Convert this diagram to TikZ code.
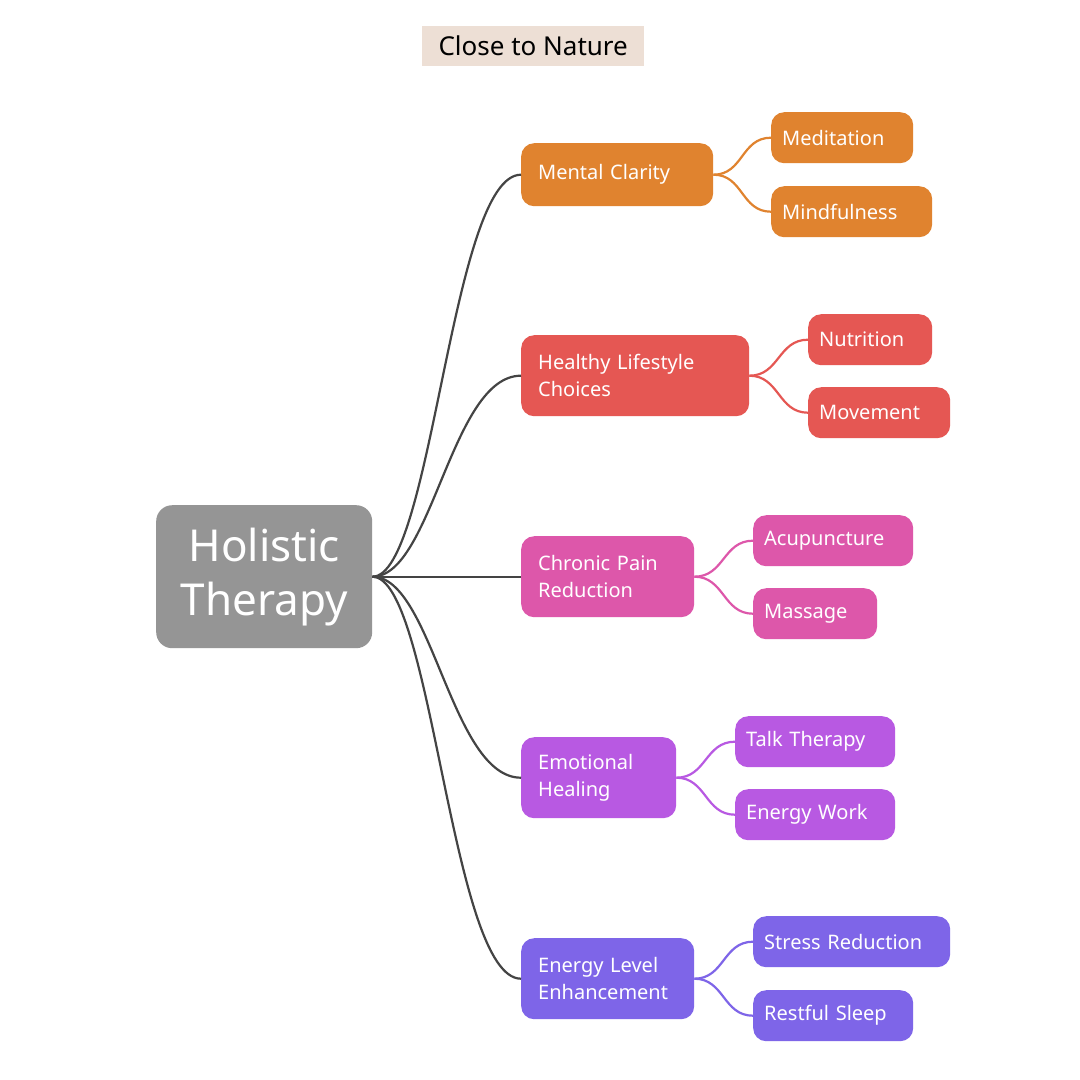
\documentclass[tikz,border=0pt]{standalone}
\usepackage{fontspec}
\setmainfont{Noto Sans}
\definecolor{cT}{HTML}{EDDFD5}
\definecolor{cR}{HTML}{959595}
\definecolor{c1}{HTML}{E0832F}
\definecolor{c2}{HTML}{E55753}
\definecolor{c3}{HTML}{DD57AA}
\definecolor{c4}{HTML}{B859E2}
\definecolor{c5}{HTML}{7E65E8}
\definecolor{cL}{HTML}{444444}
\tikzset{
 bx/.style={rounded corners=13pt, inner xsep=17pt, inner ysep=0pt, align=left, text=white, anchor=north west},
 lv/.style={bx, font=\fontsize{20}{27}\selectfont\bfseries, fill=#1},
 lf/.style={bx, inner xsep=11pt, font=\fontsize{20}{24}\selectfont, fill=#1},
 ln/.style={draw=#1, line width=2.2pt},
}
\newcommand{\bxn}[7]{\node[#1=#2, text width=#5-2*\pgfkeysvalueof{/pgf/inner xsep}, minimum height=#6] (#7) at (#3,#4) {#7T};}
\begin{document}
\begin{tikzpicture}[x=1pt,y=-1pt]
\useasboundingbox[fill=white] (0,0) rectangle (1080,1080);
\node[fill=cT, minimum width=222pt, minimum height=40pt, inner sep=0pt, anchor=north west, font=\fontsize{26}{30}\selectfont] (title) at (422,26) {Close to Nature};
\node[fill=cR, rounded corners=16pt, minimum width=216pt, minimum height=143pt, inner sep=0pt, anchor=north west, align=center, text=white, font=\fontsize{44}{54}\selectfont\bfseries] (root) at (156,505) {Holistic\\Therapy};
% level 1
\node[lv=c1, text width=158pt, minimum height=63pt] (m) at (521,143) {Mental Clarity};
\node[lv=c2, text width=194pt, minimum height=81pt] (h) at (521,335) {Healthy Lifestyle\\Choices};
\node[lv=c3, text width=139pt, minimum height=81pt] (c) at (521,536) {Chronic Pain\\Reduction};
\node[lv=c4, text width=121pt, minimum height=81pt] (e) at (521,737) {Emotional\\Healing};
\node[lv=c5, text width=139pt, minimum height=81pt] (g) at (521,938) {Energy Level\\Enhancement};
% leaves
\node[lf=c1, text width=120pt, minimum height=51pt] (m1) at (771,112) {Meditation};
\node[lf=c1, text width=139pt, minimum height=51pt] (m2) at (771,186) {Mindfulness};
\node[lf=c2, text width=102pt, minimum height=51pt] (h1) at (808,314) {Nutrition};
\node[lf=c2, text width=120pt, minimum height=51pt] (h2) at (808,387) {Movement};
\node[lf=c3, text width=138pt, minimum height=51pt] (c1n) at (753,515) {Acupuncture};
\node[lf=c3, text width=102pt, minimum height=51pt] (c2n) at (753,588) {Massage};
\node[lf=c4, text width=138pt, minimum height=51pt] (e1) at (735,716) {Talk Therapy};
\node[lf=c4, text width=138pt, minimum height=51pt] (e2) at (735,789) {Energy Work};
\node[lf=c5, text width=175pt, minimum height=51pt] (g1) at (753,916) {Stress Reduction};
\node[lf=c5, text width=138pt, minimum height=51pt] (g2) at (753,990) {Restful Sleep};
% root connectors
\foreach \t in {m,h,c,e,g}{
 \draw[ln=cL] (root.east) .. controls +(60,0) and +(-70,0) .. (\t.west);
}
\draw[ln=c1] (m.east) .. controls +(30,0) and +(-30,0) .. (m1.west);
\draw[ln=c1] (m.east) .. controls +(30,0) and +(-30,0) .. (m2.west);
\draw[ln=c2] (h.east) .. controls +(30,0) and +(-30,0) .. (h1.west);
\draw[ln=c2] (h.east) .. controls +(30,0) and +(-30,0) .. (h2.west);
\draw[ln=c3] (c.east) .. controls +(30,0) and +(-30,0) .. (c1n.west);
\draw[ln=c3] (c.east) .. controls +(30,0) and +(-30,0) .. (c2n.west);
\draw[ln=c4] (e.east) .. controls +(30,0) and +(-30,0) .. (e1.west);
\draw[ln=c4] (e.east) .. controls +(30,0) and +(-30,0) .. (e2.west);
\draw[ln=c5] (g.east) .. controls +(30,0) and +(-30,0) .. (g1.west);
\draw[ln=c5] (g.east) .. controls +(30,0) and +(-30,0) .. (g2.west);
\end{tikzpicture}
\end{document}
